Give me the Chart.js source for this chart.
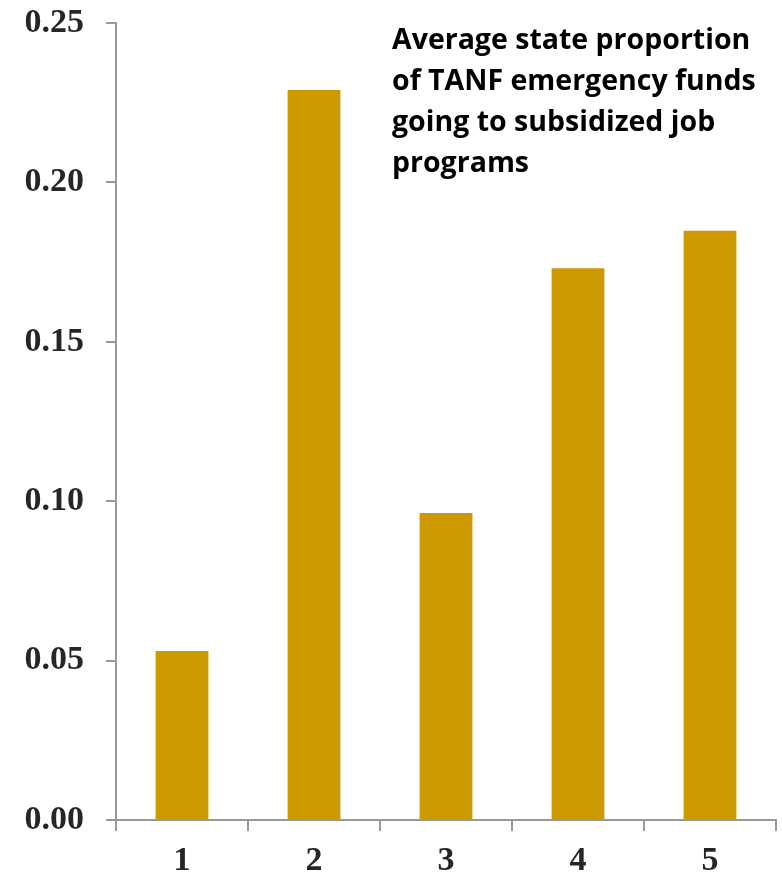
<!DOCTYPE html>
<html>
<head>
<meta charset="utf-8">
<script src="https://cdn.jsdelivr.net/npm/chart.js@4.4.1/dist/chart.umd.min.js"></script>
<style>
  html, body { margin: 0; padding: 0; background: #fff; }
  #wrap { width: 782px; height: 881px; }
</style>
</head>
<body>
<div id="wrap"><canvas id="grafico" width="782" height="881"></canvas></div>
<script>
// dados
const categorias = ['1', '2', '3', '4', '5'];
const valores = [0.053, 0.229, 0.0963, 0.1731, 0.1848];
const tituloLinhas = [
    'Average state proportion',
    'of TANF emergency funds',
    'going to subsidized job',
    'programs'
];

const corBarra = '#CC9900';
const corEixo = '#999999';
const fonteEixo = { family: '"Liberation Serif", "DejaVu Serif", serif', size: 34, weight: 'bold' };

const tituloPlugin = {
    id: 'tituloPlugin',
    afterDraw(chart) {
        const ctx = chart.ctx;
        ctx.save();
        ctx.fillStyle = '#000';
        ctx.font = 'bold 28.5px "Open Sans", sans-serif';
        ctx.textBaseline = 'middle';
        tituloLinhas.forEach((linha, i) => {
            ctx.fillText(linha, 392, 41 + i * 41);
        });
        ctx.restore();
    }
};

function construirGrafico() {
    const ctx = document.getElementById('grafico').getContext('2d');

    new Chart(ctx, {
        type: 'bar',
        data: {
            labels: categorias,
            datasets: [{
                data: valores,
                backgroundColor: corBarra,
                borderWidth: 0,
                categoryPercentage: 1,
                barPercentage: 0.4
            }]
        },
        options: {
            responsive: false,
            animation: false,
            layout: { padding: { top: 23, right: 6, left: 0, bottom: 0 } },
            plugins: {
                legend: { display: false },
                tooltip: { enabled: false }
            },
            scales: {
                x: {
                    grid: {
                        offset: true,
                        drawOnChartArea: false,
                        tickLength: 11,
                        color: corEixo,
                        lineWidth: 2
                    },
                    border: { color: corEixo, width: 2 },
                    ticks: { color: '#262626', font: fonteEixo, padding: 10 },
                    afterFit(scale) {
                        scale.height = 61;
                        scale.paddingLeft = 0;
                        scale.paddingRight = 0;
                    }
                },
                y: {
                    min: 0,
                    max: 0.25,
                    grid: {
                        drawOnChartArea: false,
                        tickLength: 10,
                        color: corEixo,
                        lineWidth: 2
                    },
                    border: { color: corEixo, width: 2 },
                    ticks: {
                        stepSize: 0.05,
                        color: '#262626',
                        font: fonteEixo,
                        padding: 22,
                        callback: v => v.toFixed(2)
                    },
                    afterFit(scale) {
                        scale.width = 116;
                        scale.paddingTop = 0;
                        scale.paddingBottom = 0;
                    }
                }
            }
        },
        plugins: [tituloPlugin]
    });
}

construirGrafico();
</script>
</body>
</html>
